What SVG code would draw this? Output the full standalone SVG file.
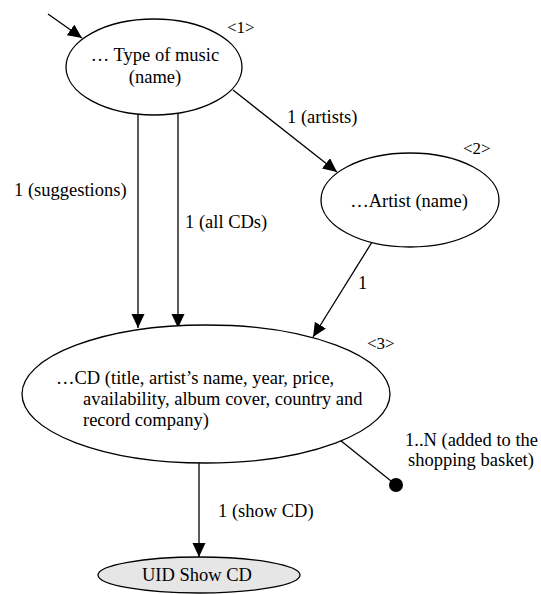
<svg xmlns="http://www.w3.org/2000/svg" width="541" height="594" viewBox="0 0 541 594">
  <style>
    text { font-family: "Times New Roman", Times, "Liberation Serif", "Nimbus Roman", "Noto Serif", "DejaVu Serif", serif; font-size: 18.5px; fill: #000; }
    .tag { font-size: 17px; }
    .node { fill: #fff; stroke: #000; stroke-width: 1.3; }
    .uid { fill: #e6e6e6; stroke: #000; stroke-width: 1.3; }
    .edge { fill: none; stroke: #000; stroke-width: 1.3; }
    .mid { text-anchor: middle; }
  </style>
  <defs>
    <marker id="arrow" markerUnits="userSpaceOnUse" markerWidth="15" markerHeight="14" refX="14" refY="6.5" orient="auto">
      <path d="M0,0 L14,6.5 L0,13 z" fill="#000"/>
    </marker>
  </defs>

  <rect width="541" height="594" fill="#fff"/>

  <!-- connectors -->
  <g id="connectors">
    <path class="edge" d="M48,14 L82,38" marker-end="url(#arrow)"/>
    <path class="edge" d="M138,114 L138,328" marker-end="url(#arrow)"/>
    <path class="edge" d="M178,114 L178,328" marker-end="url(#arrow)"/>
    <path class="edge" d="M233,90 L337,172" marker-end="url(#arrow)"/>
    <path class="edge" d="M387,218 L313,337" marker-end="url(#arrow)"/>
    <path class="edge" d="M199,440 L199,557" marker-end="url(#arrow)"/>
    <path class="edge" d="M315,420 L396,485"/>
    <circle cx="396" cy="485" r="7" fill="#000"/>
    <text x="14" y="196">1 (suggestions)</text>
    <text x="185" y="228">1 (all CDs)</text>
    <text x="287" y="123">1 (artists)</text>
    <text x="358" y="289">1</text>
    <text x="218" y="517">1 (show CD)</text>
    <text x="405" y="446">1..N (added to the</text>
    <text x="408" y="466">shopping basket)</text>
  </g>

  <!-- node 1: type of music -->
  <g id="type-of-music">
    <ellipse class="node" cx="154" cy="67" rx="88" ry="48"/>
    <text class="mid" x="155" y="61">… Type of music</text>
    <text class="mid" x="155" y="83">(name)</text>
    <text class="tag" x="227" y="33">&lt;1&gt;</text>
  </g>

  <!-- node 2: artist -->
  <g id="artist">
    <ellipse class="node" cx="410" cy="200" rx="89" ry="47"/>
    <text class="mid" x="409" y="207">…Artist (name)</text>
    <text class="tag" x="463" y="154">&lt;2&gt;</text>
  </g>

  <!-- node 3: CD -->
  <g id="cd">
    <ellipse class="node" cx="206" cy="394" rx="184" ry="69"/>
    <text x="56" y="384">…CD (title, artist’s name, year, price,</text>
    <text x="83" y="405">availability, album cover, country and</text>
    <text x="83" y="426">record company)</text>
    <text class="tag" x="367" y="349">&lt;3&gt;</text>
  </g>

  <!-- UID: show CD -->
  <g id="uid-show-cd">
    <ellipse class="uid" cx="199" cy="575" rx="101" ry="18"/>
    <text class="mid" x="197" y="581">UID Show CD</text>
  </g>
</svg>
